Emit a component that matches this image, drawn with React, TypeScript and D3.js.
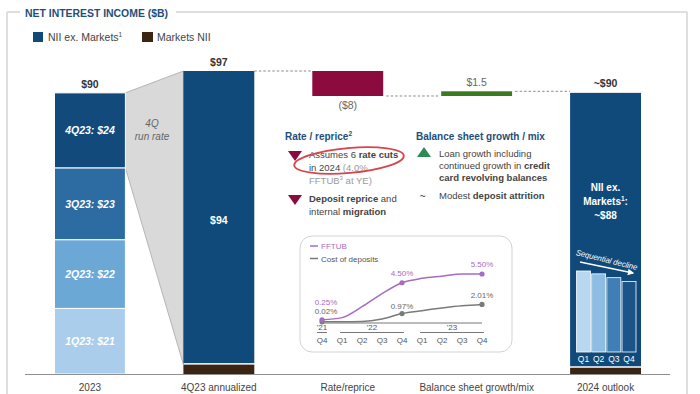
import * as d3 from "d3";

const categories = ["2023", "4Q23 annualized", "Rate/reprice", "Balance sheet growth/mix", "2024 outlook"];
const quarters2023 = ["1Q23", "2Q23", "3Q23", "4Q23"];
const nii2023 = [21, 22, 23, 24];
const annualizedNII = [94, 3]; // ex. Markets, Markets
const rateReprice = -8;
const balanceSheet = 1.5;
const outlookNII = [88, 2];
const outlookQuarters = ["Q1", "Q2", "Q3", "Q4"];
const outlookSeq = [22.5, 22.2, 21.8, 21.4];

const insetQuarters = ["Q4", "Q1", "Q2", "Q3", "Q4", "Q1", "Q2", "Q3", "Q4"];
const insetYears = [
  { label: "'21", from: 0, to: 0 },
  { label: "'22", from: 1, to: 4 },
  { label: "'23", from: 5, to: 8 },
];
const fftub = [0.25, 0.5, 1.75, 3.25, 4.5, 5.0, 5.25, 5.5, 5.5];
const costOfDeposits = [0.02, 0.02, 0.06, 0.35, 0.97, 1.3, 1.6, 1.85, 2.01];

const FONT = "'Liberation Sans', Arial, sans-serif";
const NAVY = "#0f4a7b";
const BROWN = "#3b2412";
const CRIMSON = "#8c0b3e";
const TITLE = "#1f4e79";
const segColors = ["#a9cdeb", "#6ba8d6", "#2d6ca2", "#124a7c"];
const seqColors = ["#b9d7ee", "#8dbde2", "#3f7fb5", "#1a5488"];
const PURPLE = "#a66bc4";
const GRAY = "#7a7a7a";

export default function App() {
  const x = d3.scaleBand<string>().domain(categories).range([54.5, 641]).paddingInner(0.45).paddingOuter(0);
  const y = d3.scaleLinear().domain([0, 97]).range([374, 71]);
  const bw = x.bandwidth();

  const x23 = x(categories[0])!;
  const xAnn = x(categories[1])!;
  const xRate = x(categories[2])!;
  const xBal = x(categories[3])!;
  const xOut = x(categories[4])!;

  const total23 = d3.sum(nii2023);
  const cum23 = d3.cumsum(nii2023);
  const annTotal = d3.sum(annualizedNII);
  const afterRate = annTotal + rateReprice;
  const afterBal = afterRate + balanceSheet;
  const outTotal = d3.sum(outlookNII);

  // inset chart scales
  const ix = d3.scalePoint<number>().domain(d3.range(insetQuarters.length)).range([322, 482]);
  const iy = d3.scaleLinear().domain([0, 5.5]).range([322, 274]);
  const line = d3
    .line<number>()
    .x((_, i) => ix(i)!)
    .y((d) => iy(d))
    .curve(d3.curveMonotoneX);

  // mini quarterly bars inside outlook bar
  const sx = d3.scaleBand<string>().domain(outlookQuarters).range([576.5, 636]).paddingInner(0.08);
  const sy = d3.scaleLinear().domain([14, 22.5]).range([352, 271]);

  const bodyText = "#444";
  const lightText = "#9a9a9a";

  const downTri = (cx: number, top: number) =>
    `M${cx - 7},${top} L${cx + 7},${top} L${cx},${top + 10} Z`;
  const upTri = (cx: number, top: number) =>
    `M${cx - 7},${top + 10} L${cx + 7},${top + 10} L${cx},${top} Z`;

  const markerIdx = [0, 4, 8];

  return (
    <svg
      width={700}
      height={394}
      style={{ position: "absolute", left: 0, top: 0, background: "#fff" }}
      fontFamily={FONT}
    >
      <defs>
        <marker id="arr" viewBox="0 0 10 10" refX="8" refY="5" markerWidth="5" markerHeight="5" orient="auto">
          <path d="M0,0 L10,5 L0,10 Z" fill="#fff" />
        </marker>
      </defs>

      {/* frame */}
      <g stroke="#dedede" strokeWidth={2} fill="none">
        <line x1={7} y1={12} x2={20} y2={12} />
        <line x1={176} y1={12} x2={687} y2={12} />
        <line x1={7} y1={12} x2={7} y2={394} />
        <line x1={687} y1={12} x2={687} y2={394} />
      </g>
      <text x={25} y={16.5} fontSize={11.5} fontWeight="bold" fill={TITLE} textLength={143} lengthAdjust="spacingAndGlyphs">
        NET INTEREST INCOME ($B)
      </text>

      {/* legend */}
      <rect x={33} y={32} width={10} height={10} fill={NAVY} />
      <text x={48} y={41} fontSize={10.5} fill={bodyText}>
        NII ex. Markets
        <tspan dy={-4} fontSize={6.5}>1</tspan>
      </text>
      <rect x={142} y={32} width={11} height={10} fill={BROWN} />
      <text x={157} y={41} fontSize={10.5} fill={bodyText}>
        Markets NII
      </text>

      {/* run rate trapezoid */}
      <polygon
        points={[
          [x23 + bw, y(total23)],
          [xAnn, y(annTotal)],
          [xAnn, y(annualizedNII[1])],
          [x23 + bw, y(total23 - nii2023[3])],
        ]
          .map((p) => p.join(","))
          .join(" ")}
        fill="#d9d9d9"
        stroke="#a8a8a8"
        strokeWidth={0.8}
      />
      <text x={152} y={127} fontSize={10} fontStyle="italic" fill="#666" textAnchor="middle">
        4Q
      </text>
      <text x={152} y={140} fontSize={10} fontStyle="italic" fill="#666" textAnchor="middle">
        run rate
      </text>

      {/* 2023 stacked */}
      {nii2023.map((v, i) => {
        const top = y(cum23[i]);
        const bot = y(cum23[i] - v);
        return (
          <g key={quarters2023[i]}>
            <rect x={x23} y={top} width={bw} height={bot - top} fill={segColors[i]} stroke="#fff" strokeWidth={1} />
            <text
              x={x23 + bw / 2}
              y={(top + bot) / 2 + 4}
              textAnchor="middle"
              fontSize={10.5}
              fontWeight="bold"
              fontStyle="italic"
              fill="#fff"
            >
              {`${quarters2023[i]}: $${v}`}
            </text>
          </g>
        );
      })}
      <text x={x23 + bw / 2} y={y(total23) - 5} textAnchor="middle" fontSize={10.5} fontWeight="bold" fill="#333">
        ${total23}
      </text>

      {/* 4Q23 annualized */}
      <rect x={xAnn} y={y(annualizedNII[1])} width={bw} height={y(0) - y(annualizedNII[1])} fill={BROWN} />
      <rect
        x={xAnn}
        y={y(annTotal)}
        width={bw}
        height={y(annualizedNII[1]) - y(annTotal) - 1.5}
        fill={NAVY}
      />
      <text x={xAnn + bw / 2} y={y(annTotal) - 5} textAnchor="middle" fontSize={10.5} fontWeight="bold" fill="#333">
        ${annTotal}
      </text>
      <text
        x={xAnn + bw / 2}
        y={(y(annTotal) + y(annualizedNII[1])) / 2 + 6}
        textAnchor="middle"
        fontSize={10.5}
        fontWeight="bold"
        fill="#fff"
      >
        ${annualizedNII[0]}
      </text>

      {/* connectors */}
      <g stroke="#8a8a8a" strokeWidth={1} strokeDasharray="2.5,2">
        <line x1={xAnn + bw} x2={xRate} y1={y(annTotal)} y2={y(annTotal)} />
        <line x1={xRate + bw + 3} x2={xBal - 3} y1={y(afterRate)} y2={y(afterRate)} />
        <line x1={xBal + bw + 3} x2={xOut} y1={y(afterBal)} y2={y(afterBal)} />
      </g>

      {/* rate / reprice */}
      <rect x={xRate} y={y(annTotal)} width={bw} height={y(afterRate) - y(annTotal)} fill={CRIMSON} />
      <text x={xRate + bw / 2} y={y(afterRate) + 13} textAnchor="middle" fontSize={10.5} fill="#666">
        (${Math.abs(rateReprice)})
      </text>

      {/* balance sheet */}
      <rect x={xBal} y={y(afterBal)} width={bw} height={y(afterRate) - y(afterBal)} fill="#3b7a1f" />
      <text x={xBal + bw / 2} y={y(afterBal) - 5} textAnchor="middle" fontSize={10.5} fill="#666">
        ${balanceSheet}
      </text>

      {/* 2024 outlook */}
      <rect x={xOut} y={y(outlookNII[1])} width={bw} height={y(0) - y(outlookNII[1])} fill={BROWN} />
      <rect x={xOut} y={y(outTotal)} width={bw} height={y(outlookNII[1]) - y(outTotal) - 1.5} fill={NAVY} />
      <text x={xOut + bw / 2} y={y(outTotal) - 6} textAnchor="middle" fontSize={10.5} fontWeight="bold" fill="#333">
        ~${outTotal}
      </text>
      <g fill="#fff" fontSize={10} fontWeight="bold" textAnchor="middle">
        <text x={xOut + bw / 2} y={191}>NII ex.</text>
        <text x={xOut + bw / 2} y={205}>
          Markets<tspan dy={-4} fontSize={6.5}>1</tspan>
          <tspan dy={4}>:</tspan>
        </text>
        <text x={xOut + bw / 2} y={219}>~${outlookNII[0]}</text>
      </g>
      {outlookSeq.map((v, i) => (
        <g key={outlookQuarters[i]}>
          <rect
            x={sx(outlookQuarters[i])!}
            y={sy(v)}
            width={sx.bandwidth()}
            height={sy(14) - sy(v)}
            fill={seqColors[i]}
            stroke="#fff"
            strokeWidth={0.8}
          />
          <text
            x={sx(outlookQuarters[i])! + sx.bandwidth() / 2}
            y={362}
            textAnchor="middle"
            fontSize={8.5}
            fill="#fff"
          >
            {outlookQuarters[i]}
          </text>
        </g>
      ))}
      <text
        x={606}
        y={262.5}
        transform="rotate(14 606 262.5)"
        textAnchor="middle"
        fontSize={8}
        fontStyle="italic"
        fill="#fff"
        textLength={63}
        lengthAdjust="spacingAndGlyphs"
      >
        Sequential decline
      </text>
      <line x1={580} y1={262} x2={633} y2={273} stroke="#fff" strokeWidth={1.3} markerEnd="url(#arr)" />

      {/* category axis */}
      <line x1={25} x2={670} y1={374.5} y2={374.5} stroke="#8f8f8f" strokeWidth={1} />
      {categories.map((c) => (
        <text key={c} x={x(c)! + bw / 2} y={391} textAnchor="middle" fontSize={10} fill="#444">
          {c}
        </text>
      ))}

      {/* annotations: rate / reprice */}
      <text x={285} y={140} fontSize={10} fontWeight="bold" fill={TITLE}>
        Rate / reprice<tspan dy={-4} fontSize={6.5}>2</tspan>
      </text>
      <path d={downTri(295, 151)} fill={CRIMSON} />
      <g fontSize={9.5} fill={bodyText}>
        <text x={309} y={158}>
          Assumes 6 <tspan fontWeight="bold">rate cuts</tspan>
        </text>
        <text x={309} y={171}>
          in 2024 <tspan fill={lightText}>(4.0%</tspan>
        </text>
        <text x={309} y={184} fill={lightText}>
          FFTUB<tspan dy={-4} fontSize={6}>3</tspan>
          <tspan dy={4}> at YE)</tspan>
        </text>
        <text x={309} y={202}>
          <tspan fontWeight="bold">Deposit reprice</tspan> and
        </text>
        <text x={309} y={215}>
          internal <tspan fontWeight="bold">migration</tspan>
        </text>
      </g>
      <path d={downTri(295, 195)} fill={CRIMSON} />
      <ellipse
        cx={349}
        cy={160.5}
        rx={55}
        ry={12.5}
        transform="rotate(-5 349 160.5)"
        fill="none"
        stroke="#d9434b"
        strokeWidth={1.8}
      />

      {/* annotations: balance sheet */}
      <text x={416} y={140} fontSize={10} fontWeight="bold" fill={TITLE}>
        Balance sheet growth / mix
      </text>
      <path d={upTri(424, 147)} fill="#2f8a55" />
      <g fontSize={9.5} fill={bodyText}>
        <text x={439} y={157}>Loan growth including</text>
        <text x={439} y={169}>
          continued growth in <tspan fontWeight="bold">credit</tspan>
        </text>
        <text x={439} y={181} fontWeight="bold">
          card revolving balances
        </text>
        <text x={420} y={199} fontWeight="bold">
          ~
        </text>
        <text x={439} y={199}>
          Modest <tspan fontWeight="bold">deposit attrition</tspan>
        </text>
      </g>

      {/* inset chart */}
      <rect x={300} y={236} width={212} height={116} rx={12} fill="#fff" stroke="#d3d3d3" strokeWidth={1} />
      <line x1={310} x2={318} y1={246} y2={246} stroke={PURPLE} strokeWidth={1.5} />
      <text x={321} y={249} fontSize={8} fill={PURPLE}>
        FFTUB
      </text>
      <line x1={310} x2={318} y1={258.5} y2={258.5} stroke={GRAY} strokeWidth={1.5} />
      <text x={321} y={261.5} fontSize={8} fill="#555">
        Cost of deposits
      </text>
      <line x1={ix(0)! - 2} x2={ix(8)!} y1={323} y2={323} stroke="#777" strokeWidth={1} />
      <path d={line(costOfDeposits)!} fill="none" stroke={GRAY} strokeWidth={1.5} />
      <path d={line(fftub)!} fill="none" stroke={PURPLE} strokeWidth={1.5} />
      {markerIdx.map((i) => (
        <g key={i}>
          <circle cx={ix(i)!} cy={iy(costOfDeposits[i])} r={2.6} fill={GRAY} />
          <circle cx={ix(i)!} cy={iy(fftub[i])} r={2.6} fill={PURPLE} />
        </g>
      ))}
      <g fontSize={8} textAnchor="middle">
        <text x={ix(0)! + 4} y={304.5} fill={PURPLE}>{fftub[0].toFixed(2)}%</text>
        <text x={ix(0)! + 4} y={313.5} fill="#666">{costOfDeposits[0].toFixed(2)}%</text>
        <text x={ix(4)!} y={iy(fftub[4]) - 7} fill={PURPLE}>{fftub[4].toFixed(2)}%</text>
        <text x={ix(4)!} y={iy(costOfDeposits[4]) - 5} fill="#666">{costOfDeposits[4].toFixed(2)}%</text>
        <text x={ix(8)!} y={iy(fftub[8]) - 7} fill={PURPLE}>{fftub[8].toFixed(2)}%</text>
        <text x={ix(8)!} y={iy(costOfDeposits[8]) - 6} fill="#666">{costOfDeposits[8].toFixed(2)}%</text>
      </g>
      {insetYears.map((yr) => {
        const a = ix(yr.from)!;
        const b = ix(yr.to)!;
        const x1 = yr.from === yr.to ? a - 5 : a - 2;
        const x2 = yr.from === yr.to ? a + 5 : b + 2;
        return (
          <g key={yr.label}>
            <text x={(x1 + x2) / 2} y={330} fontSize={8} fill="#555" textAnchor="middle">
              {yr.label}
            </text>
            <line x1={x1} x2={x2} y1={332.5} y2={332.5} stroke="#555" strokeWidth={0.8} />
          </g>
        );
      })}
      {insetQuarters.map((q, i) => (
        <text key={i} x={ix(i)!} y={342.5} fontSize={8} fill="#555" textAnchor="middle">
          {q}
        </text>
      ))}
    </svg>
  );
}
